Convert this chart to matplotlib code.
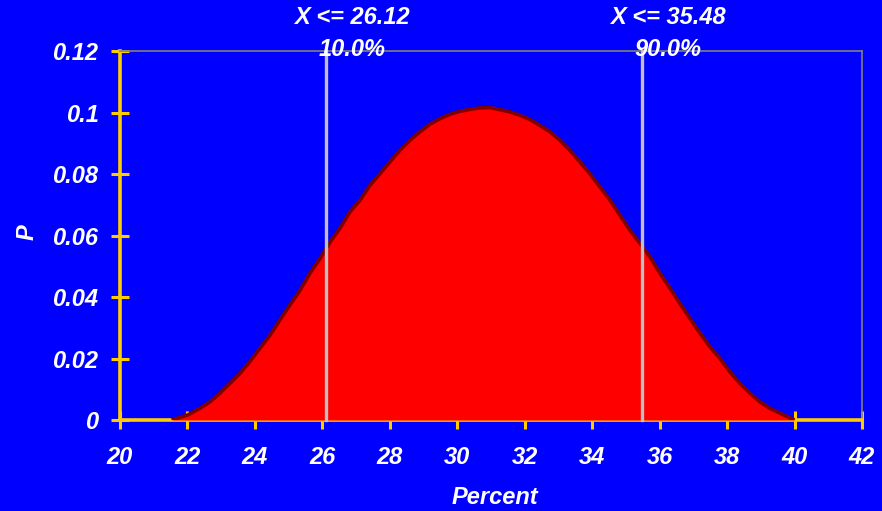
import matplotlib
matplotlib.use("Agg")
import matplotlib.pyplot as plt
from matplotlib.transforms import blended_transform_factory

# ---- data ----
x_vals = [21.53, 22.00, 22.37, 22.67, 22.96, 23.26, 23.56, 23.85, 24.15, 24.45,
          24.74, 25.04, 25.34, 25.63, 25.93, 26.23, 26.52, 26.82, 27.12, 27.41,
          27.71, 28.00, 28.30, 28.60, 28.89, 29.19, 29.49, 29.78, 30.08, 30.38,
          30.67, 30.97, 31.27, 31.56, 31.86, 32.16, 32.45, 32.75, 33.04, 33.34,
          33.64, 33.93, 34.23, 34.53, 34.82, 35.12, 35.42, 35.71, 36.01, 36.31,
          36.60, 36.90, 37.20, 37.49, 37.79, 38.08, 38.38, 38.68, 38.97, 39.27,
          39.57, 40.00]
p_vals = [0.0000, 0.0016, 0.0038, 0.0059, 0.0087, 0.0119, 0.0152, 0.0190, 0.0233, 0.0276,
          0.0325, 0.0374, 0.0422, 0.0477, 0.0525, 0.0579, 0.0623, 0.0677, 0.0715, 0.0763,
          0.0801, 0.0839, 0.0877, 0.0910, 0.0937, 0.0962, 0.0980, 0.0994, 0.1004, 0.1010,
          0.1015, 0.1016, 0.1009, 0.1002, 0.0991, 0.0977, 0.0958, 0.0937, 0.0910, 0.0877,
          0.0839, 0.0801, 0.0758, 0.0715, 0.0666, 0.0617, 0.0574, 0.0531, 0.0477, 0.0428,
          0.0379, 0.0330, 0.0282, 0.0238, 0.0200, 0.0157, 0.0119, 0.0087, 0.0059, 0.0038,
          0.0022, 0.0000]

marker_x = [26.12, 35.48]
marker_pct = ["10.0%", "90.0%"]
x_ticks = [20, 22, 24, 26, 28, 30, 32, 34, 36, 38, 40, 42]
y_ticks = [0, 0.02, 0.04, 0.06, 0.08, 0.1, 0.12]
y_tick_labels = ["0", "0.02", "0.04", "0.06", "0.08", "0.1", "0.12"]
x_label = "Percent"
y_label = "P"

# ---- styling ----
BLUE = "#0000FF"
YELLOW = "#FFCC00"
FONT = dict(family="Liberation Sans", weight="bold", style="italic", size=17, color="white")

W, H = 882, 511
fig = plt.figure(figsize=(W / 100, H / 100), dpi=100, facecolor=BLUE)
ax = fig.add_axes([120 / W, 1 - 420 / H, 742 / W, 369 / H])
ax.set_facecolor(BLUE)

ax.fill_between(x_vals, p_vals, 0, color="#FF0000", zorder=3, linewidth=0)
ax.plot(x_vals, p_vals, color="#800000", linewidth=2.6, zorder=3.5,
        solid_capstyle="butt", solid_joinstyle="round")

for xv in marker_x:
    ax.plot([xv, xv], [0, 0.12], color="#C0C0C0", linewidth=2.4, zorder=4, clip_on=False)

ax.set_xlim(20, 42)
ax.set_ylim(0, 0.12)
ax.set_xticks(x_ticks)
ax.set_xticklabels([str(t) for t in x_ticks])
ax.set_yticks(y_ticks)
ax.set_yticklabels(y_tick_labels)

for lab in ax.get_xticklabels() + ax.get_yticklabels():
    lab.set_fontfamily(FONT["family"])
    lab.set_fontweight("bold")
    lab.set_fontstyle("italic")
    lab.set_fontsize(FONT["size"])
    lab.set_color("white")

ax.tick_params(axis="both", direction="inout", length=13, width=2.2, color=YELLOW)
ax.tick_params(axis="x", pad=12)
ax.tick_params(axis="y", pad=9)

for side in ("left", "bottom"):
    ax.spines[side].set_color(YELLOW)
    ax.spines[side].set_linewidth(2.6)
    ax.spines[side].set_zorder(2.5)
for side in ("top", "right"):
    ax.spines[side].set_color("#808080")
    ax.spines[side].set_linewidth(1.2)

fig.text(495 / W, 1 - 497 / H, x_label, ha="center", va="center", **FONT)
fig.text(27 / W, 1 - 232 / H, y_label, ha="center", va="center", rotation=90, **FONT)

trans = blended_transform_factory(ax.transData, fig.transFigure)
for xv, pct in zip(marker_x, marker_pct):
    ax.annotate(f"X <= {xv:.2f}", xy=(xv, 1 - 17.5 / H), xycoords=trans,
                xytext=(18.5, 0), textcoords="offset points",
                ha="center", va="center", zorder=6, annotation_clip=False, **FONT)
    ax.annotate(pct, xy=(xv, 1 - 49 / H), xycoords=trans,
                xytext=(18.5, 0), textcoords="offset points",
                ha="center", va="center", zorder=6, annotation_clip=False, **FONT)

fig.savefig("out.png", dpi=100, facecolor=BLUE)
